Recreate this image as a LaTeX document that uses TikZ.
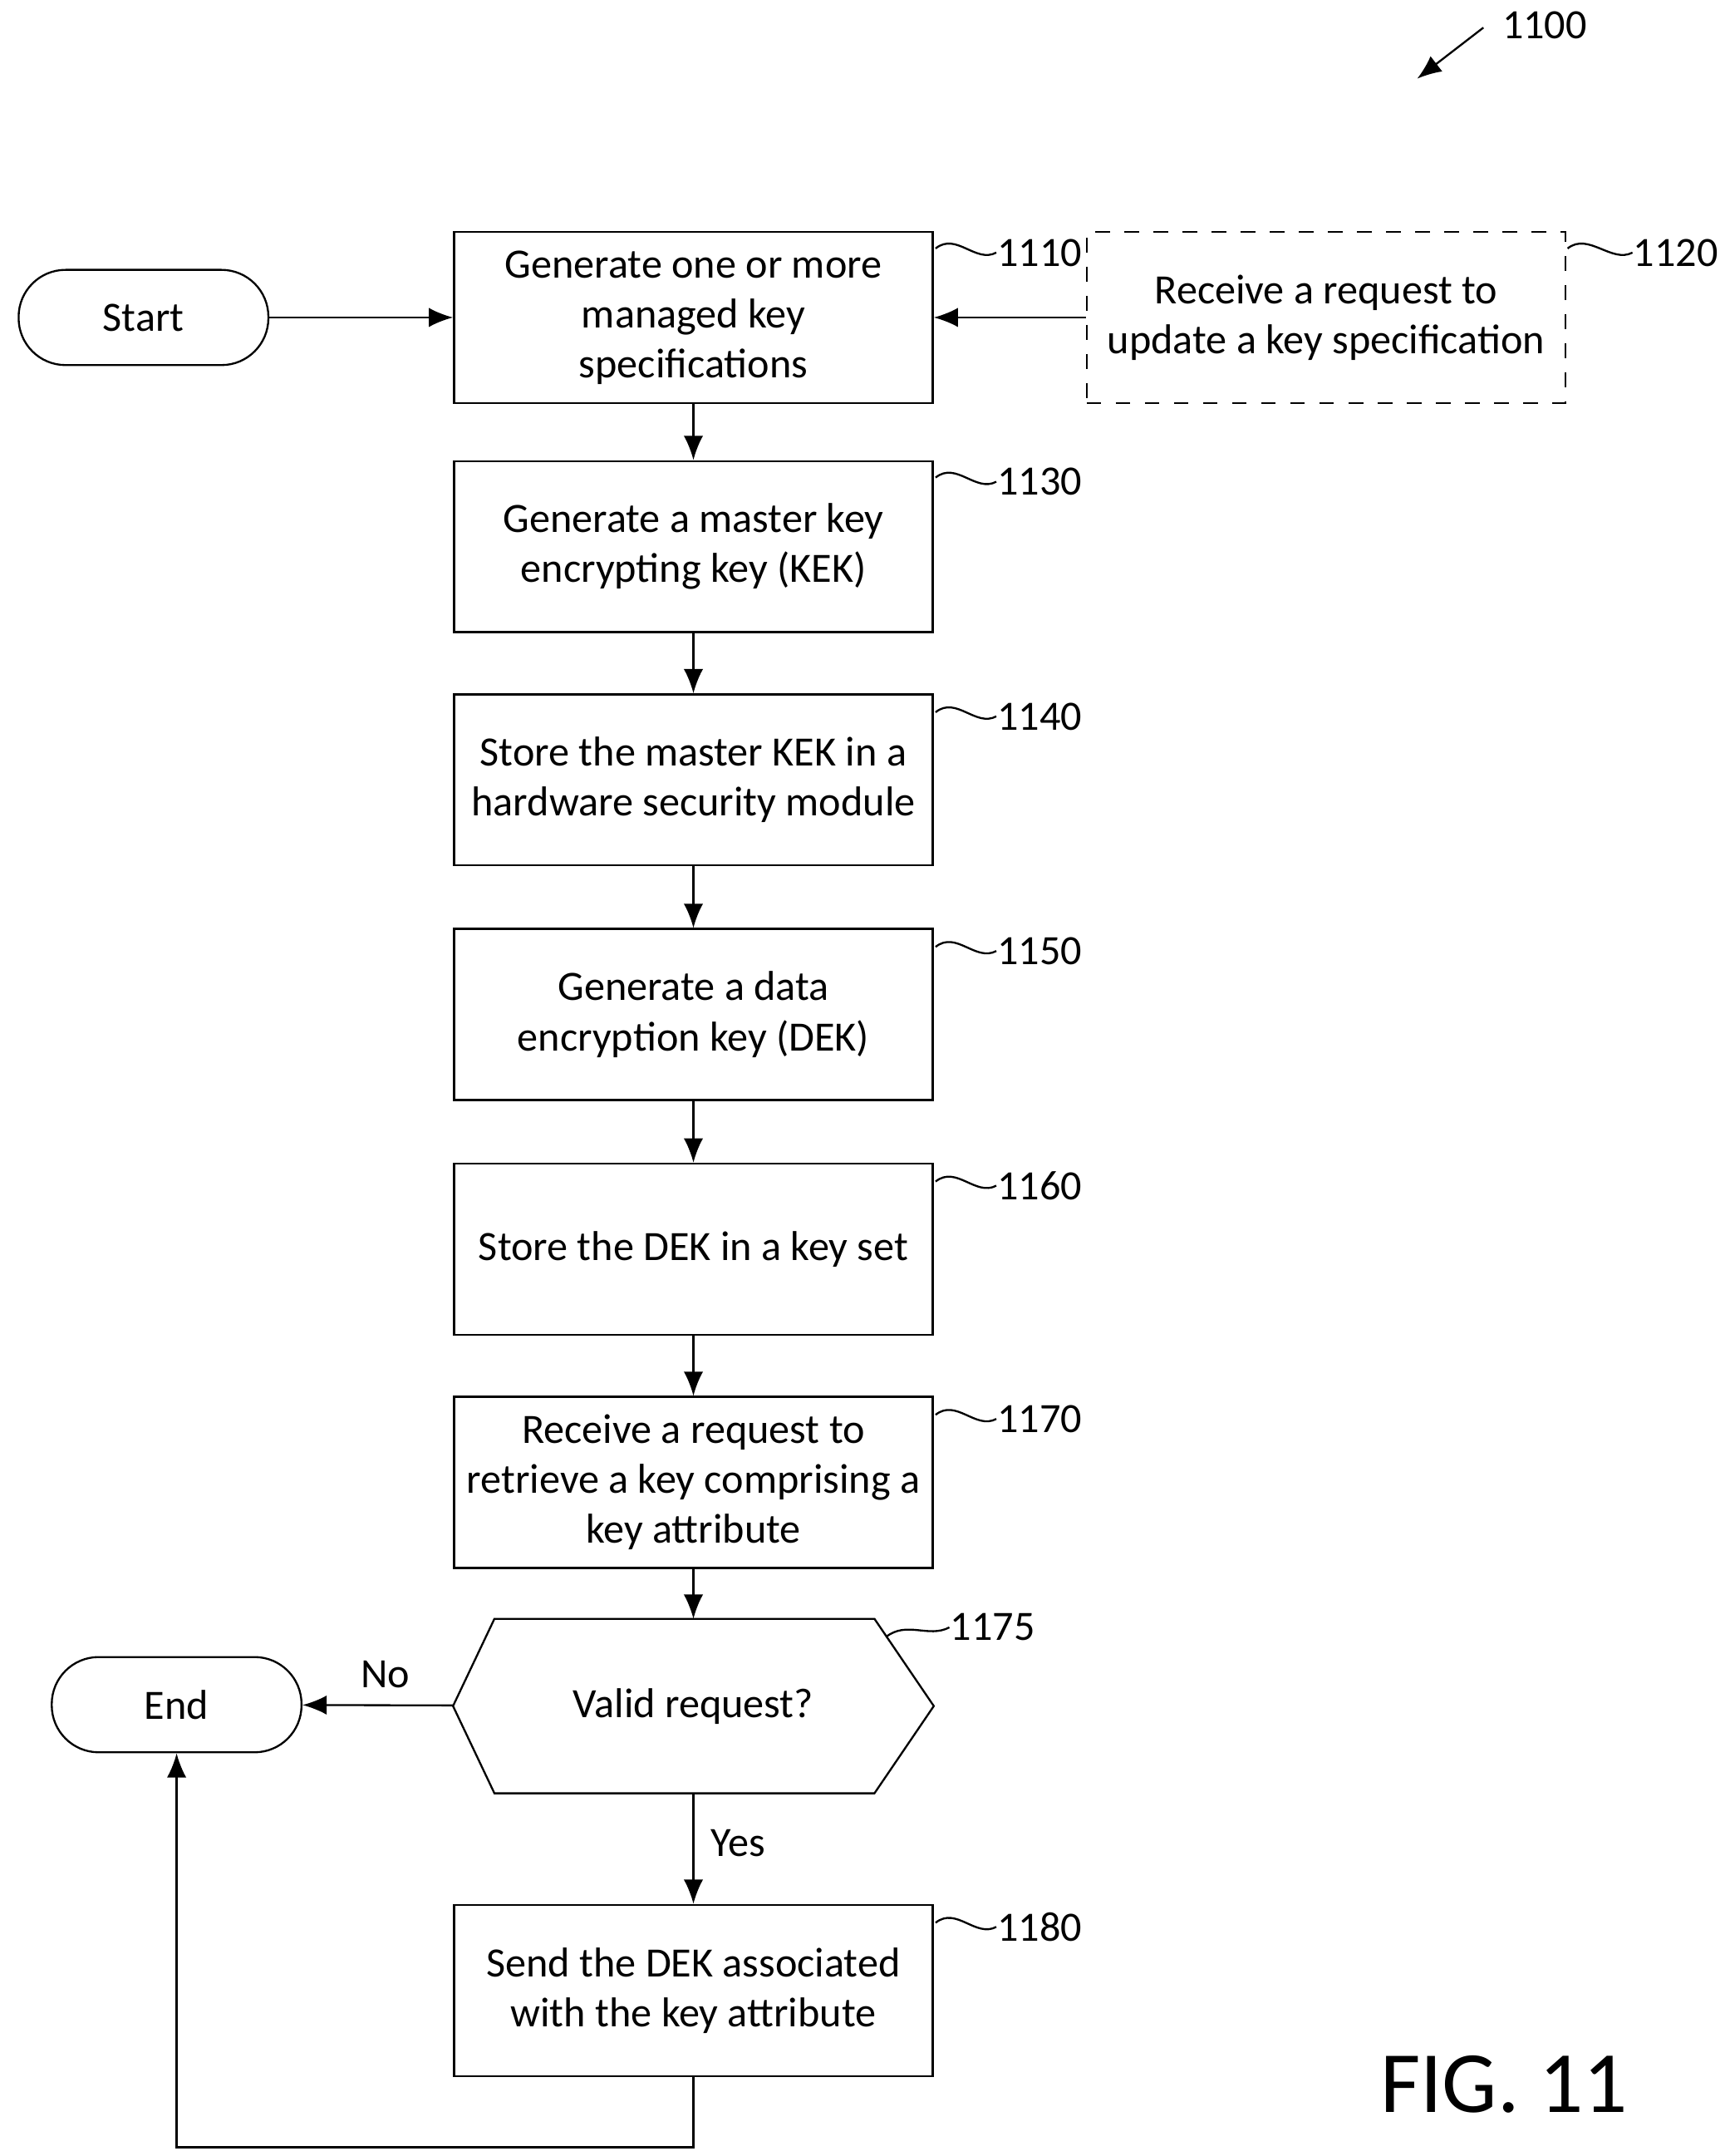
\documentclass[tikz,border=0pt]{standalone}
\usepackage{fontspec}
\setmainfont{Carlito}
\usetikzlibrary{positioning,arrows.meta}

\tikzset{
  process/.style={draw, minimum width=3.47cm, minimum height=1.24cm, align=center, inner sep=1pt},
  term/.style={draw, rounded corners=0.34cm, minimum width=1.81cm, minimum height=0.69cm},
  ref/.style={anchor=west, inner sep=0pt},
  flow/.style={-{Latex[length=5pt,width=4pt]}, thin},
  tag/.style={thin}
}
\newcommand{\squig}[2]{\draw[tag] (#1) .. controls +(0.15,0.12) and +(-0.15,-0.08) .. (#2.west);}

\begin{document}
\begin{tikzpicture}[font=\fontsize{8.6}{10.3}\selectfont]
  \useasboundingbox (0,0) rectangle (12.5,-15.62);

  % figure number
  \node[ref] (fig) at (10.88,-0.18) {1100};
  \coordinate (figtip) at (10.27,-0.57);
  \draw[flow] (10.75,-0.2) -- (figtip);

  % Start
  \node[term] (start) at (1.04,-2.30) {Start};

  % Steps
  \node[process] (s1110) at (5.025,-2.30) {Generate one or more\\managed key\\specifications};
  \node[process, dashed] (s1120) at (9.61,-2.30) {Receive a request to\\update a key specification};
  \node[process] (s1130) at (5.025,-3.96) {Generate a master key\\encrypting key (KEK)};
  \node[process] (s1140) at (5.025,-5.65) {Store the master KEK in a\\hardware security module};
  \node[process] (s1150) at (5.025,-7.35) {Generate a data\\encryption key (DEK)};
  \node[process] (s1160) at (5.025,-9.05) {Store the DEK in a key set};
  \node[process] (s1170) at (5.025,-10.74) {Receive a request to\\retrieve a key comprising a\\key attribute};

  % Decision
  \node[minimum width=3.47cm, minimum height=1.25cm, inner sep=0pt] (s1175) at (5.025,-12.36) {Valid request?};
  \draw ([xshift=0.3cm]s1175.north west) -- ([xshift=-0.43cm]s1175.north east) -- (s1175.east)
    -- ([xshift=-0.43cm]s1175.south east) -- ([xshift=0.3cm]s1175.south west) -- (s1175.west) -- cycle;

  \node[process] (s1180) at (5.025,-14.42) {Send the DEK associated\\with the key attribute};

  % End
  \node[term] (end) at (1.28,-12.35) {End};

  % Reference numbers
  \node[ref] (r1110) at (7.22,-1.83) {1110};
  \node[ref] (r1120) at (11.83,-1.83) {1120};
  \node[ref] (r1130) at (7.22,-3.49) {1130};
  \node[ref] (r1140) at (7.22,-5.19) {1140};
  \node[ref] (r1150) at (7.22,-6.89) {1150};
  \node[ref] (r1160) at (7.22,-8.59) {1160};
  \node[ref] (r1170) at (7.22,-10.28) {1170};
  \node[ref] (r1175) at (6.88,-11.79) {1175};
  \node[ref] (r1180) at (7.22,-13.96) {1180};

  \squig{6.78,-1.80}{r1110}
  \squig{11.36,-1.80}{r1120}
  \squig{6.78,-3.46}{r1130}
  \squig{6.78,-5.16}{r1140}
  \squig{6.78,-6.86}{r1150}
  \squig{6.78,-8.56}{r1160}
  \squig{6.78,-10.25}{r1170}
  \squig{6.42,-11.86}{r1175}
  \squig{6.78,-13.93}{r1180}

  % Connectors
  \draw[flow] (start) -- (s1110);
  \draw[flow] (s1120) -- (s1110);
  \draw[flow] (s1110) -- (s1130);
  \draw[flow] (s1130) -- (s1140);
  \draw[flow] (s1140) -- (s1150);
  \draw[flow] (s1150) -- (s1160);
  \draw[flow] (s1160) -- (s1170);
  \draw[flow] (s1170) -- (s1175);
  \draw[flow] (s1175) -- node[above, pos=0.45] {No} (end);
  \draw[flow] (s1175.south) -- node[right, pos=0.45] {Yes} (s1180);
  \draw[flow] (s1180.south) -- ++(0,-0.51) -| (end.south);

  \node[font=\fontsize{18}{20}\selectfont] (fig11) at (10.9,-15.1) {FIG. 11};
\end{tikzpicture}
\end{document}
